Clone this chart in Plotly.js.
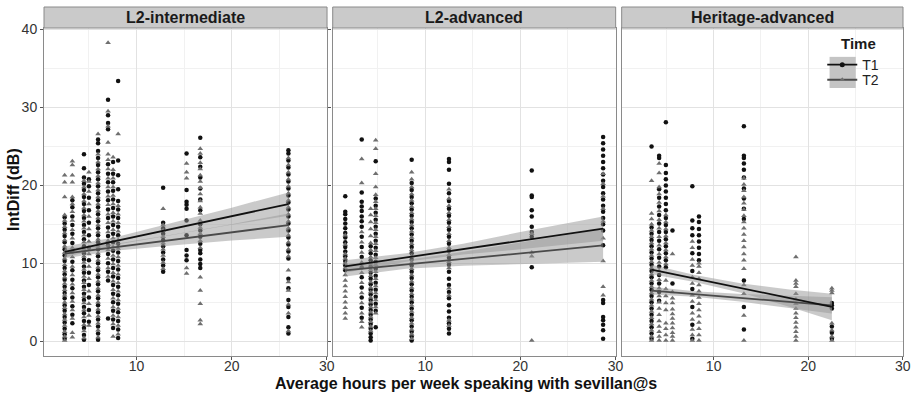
<!DOCTYPE html>
<html><head><meta charset="utf-8">
<script src="https://cdn.plot.ly/plotly-3.0.1.min.js"></script>
<style>html,body{margin:0;padding:0;background:#fff}</style>
</head><body><div id="chart" style="width:917px;height:393px"></div>
<script>
const panelNames = ['L2-intermediate', 'L2-advanced', 'Heritage-advanced'];
const xTickVals = [10, 20, 30];
const yTickVals = [0, 10, 20, 30, 40];

// ---------- L2-intermediate ----------
const hoursInt = [2.45, 3.26, 4.48, 5.0, 5.96, 7.01, 7.54, 8.07, 12.8, 15.26, 16.7, 25.96];
const intT1 = [
  [0.3,0.9,1.6,2.4,3.1,3.9,4.6,5.5,6.2,7.0,7.9,8.6,9.4,10.3,11.0,11.8,12.7,13.5,14.3,15.1,15.9],
  [2.3,3.4,4.5,5.6,6.8,7.9,9.1,10.2,11.5,12.6,13.8,14.9,16.0,17.2,18.1],
  [0.2,0.8,1.7,2.6,3.6,4.4,5.3,6.1,7.0,7.8,8.8,9.6,10.5,11.3,12.2,13.1,14.0,14.9,15.8,16.7,17.6,18.5,19.4,20.2,21.0,22.2,24.0],
  [2.5,4.0,5.6,7.2,8.8,10.4,12.0,13.6,15.2,16.8,18.4,19.9,20.8],
  [0.2,1.0,1.9,2.8,3.7,4.6,5.5,6.4,7.3,8.2,9.1,10.0,10.9,11.8,12.7,13.6,14.5,15.4,16.3,17.2,18.1,19.0,19.9,20.8,21.7,22.6,23.5,24.4,25.4,25.9],
  [2.9,7.8,8.9,10.0,11.2,12.3,13.5,14.6,15.8,16.9,18.1,19.2,20.4,21.5,22.7,27.2,28.0,29.0,31.0],
  [1.7,2.8,3.9,5.0,6.1,7.2,8.3,9.4,10.5,11.6,12.7,13.8,14.9,16.0,17.1,18.2,19.3,20.4,21.5,23.0],
  [0.4,1.5,2.6,3.7,4.8,5.9,7.0,8.1,9.2,10.3,11.4,12.5,13.6,14.7,15.8,16.9,18.0,19.5,21.3,23.2,33.4],
  [8.9,9.7,10.5,11.4,12.2,13.0,13.8,14.5,15.2,19.7],
  [10.4,11.0,11.7,13.6,15.5,17.0,17.5,17.9,19.4,24.1],
  [9.4,9.9,10.5,11.3,11.7,12.5,13.4,14.2,15.0,16.8,18.2,19.6,21.0,22.4,23.6,26.1],
  [1.0,1.8,3.1,4.4,5.3,6.8,8.0,10.6,11.5,12.4,13.3,14.2,15.1,16.0,16.9,17.8,18.7,19.6,20.5,21.4,22.3,23.2,24.1,24.5]
];
const intT2 = [
  [0.1,0.6,1.2,2.0,2.8,3.5,4.3,5.0,5.9,6.6,7.4,8.2,9.0,9.8,10.6,11.4,12.2,13.0,13.9,14.7,15.5,16.2,18.5,20.4,21.3],
  [0.5,1.1,2.9,4.0,5.1,6.2,7.3,8.5,9.6,10.8,12.0,13.2,14.3,15.5,16.6,17.6,18.5,20.4,21.3,22.6,23.1],
  [0.4,1.3,2.1,3.1,4.0,4.9,5.7,6.6,7.5,8.3,9.2,10.1,10.9,11.8,12.7,13.6,14.5,15.4,16.2,17.1,18.0,18.9,19.8,20.6],
  [2.0,3.3,4.8,6.4,8.0,9.6,11.2,12.8,14.4,16.0,17.6,19.2,20.5,21.7],
  [0.5,1.4,2.3,3.2,4.1,5.0,5.9,6.8,7.7,8.6,9.5,10.4,11.3,12.2,13.1,14.0,14.9,15.8,16.7,17.6,18.5,19.4,20.3,21.2,22.1,23.0,24.0,26.6],
  [8.3,9.4,10.6,11.7,12.9,14.0,15.2,16.3,17.5,18.6,19.8,20.9,22.1,23.3,24.0,25.5,27.6,29.5,38.3],
  [0.6,2.2,3.3,4.4,5.5,6.6,7.7,8.8,9.9,11.0,12.1,13.2,14.3,15.4,16.5,17.6,18.7,19.8,20.9,22.0,23.6],
  [0.9,2.0,3.1,4.2,5.3,6.4,7.5,8.6,9.7,10.8,11.9,13.0,14.1,15.2,16.3,17.4,26.6],
  [9.3,10.1,11.0,11.8,12.6,13.4,14.2,14.9,17.0],
  [8.7,9.4,20.9,21.7,22.8],
  [2.2,2.7,4.8,6.5,8.2,12.0,12.9,13.8,14.6,15.5,16.4,17.2,18.0,18.9,19.7,20.5,21.3,22.1,22.9,24.1,24.7],
  [1.3,3.6,4.7,6.5,7.6,9.1,10.9,11.8,12.7,13.6,14.5,15.4,16.3,17.2,18.1,19.0,19.9,20.8,21.7,22.6,23.5]
];

// ---------- L2-advanced ----------
const hoursAdv = [1.6, 3.33, 4.27, 4.8, 8.58, 12.5, 21.2, 28.7];
const advT1 = [
  [9.1,9.7,10.3,10.9,11.5,12.1,12.7,13.3,13.9,14.5,15.1,15.7,16.3,16.6,18.6],
  [3.0,4.3,5.6,6.9,8.2,9.5,10.8,12.1,13.4,14.7,15.4,16.0,16.7,17.3,17.9,19.1,25.9],
  [0.1,0.5,1.0,1.6,2.2,2.8,3.4,4.0,4.7,5.3,6.0,6.6,7.3,8.0,8.8,9.6,10.4,11.3,12.2],
  [1.8,3.9,4.8,5.7,6.6,7.5,8.4,9.3,10.2,11.1,12.0,12.9,13.8,14.7,15.6,16.5,17.4,18.3,23.1],
  [0.1,0.6,1.2,1.9,2.7,3.4,4.2,5.0,5.7,6.5,7.3,8.1,8.9,9.7,10.5,11.3,12.1,12.9,13.7,14.5,15.3,16.1,16.9,17.7,18.5,19.4,20.3,23.3],
  [1.0,1.6,2.3,3.0,3.8,4.6,5.5,6.3,7.2,8.0,8.9,9.8,10.7,11.6,12.5,13.4,14.3,15.2,16.1,17.0,18.0,19.0,20.2,22.0,23.0,23.4],
  [9.5,13.4,14.0,14.7,16.0,16.8,18.5,18.7,21.9],
  [0.3,1.4,2.1,2.7,3.1,4.9,5.3,12.3,14.2,15.0,15.8,16.6,17.4,18.2,19.0,19.8,20.6,21.4,22.2,23.0,23.8,24.6,25.4,26.2]
];
const advT2 = [
  [2.9,3.6,4.3,5.0,5.7,6.4,7.1,7.8,8.5,9.4,10.0,10.6,11.2,12.4,13.6],
  [1.8,2.5,3.6,4.9,6.2,7.5,8.8,10.1,11.4,12.7,14.0,20.3,23.4],
  [1.3,1.9,2.5,3.1,3.7,4.4,5.0,5.6,6.3,6.9,7.6,8.4,9.2,10.0,10.8,11.7,12.6,13.5,14.4,15.3,16.2,17.0],
  [3.6,4.4,5.3,6.2,7.1,8.0,8.9,9.8,10.7,11.6,12.5,13.4,14.3,15.2,16.1,17.0,17.9,18.8,19.8,21.5,24.7,25.8],
  [0.3,0.9,1.5,2.3,3.0,3.8,4.6,5.4,6.1,6.9,7.7,8.5,9.3,10.1,10.9,11.7,12.5,13.3,14.1,14.9,15.7,16.5,17.3,18.1,18.9,19.8,20.8,21.7],
  [2.0,2.7,5.9,6.8,9.4,10.2,11.1,12.0,12.9,13.8,14.7,15.6,16.5,17.4,18.3,19.5],
  [0.1,10.9,11.4,13.8],
  [5.9,7.0,10.3,13.2,15.4,17.0,18.6,20.2,21.5]
];

// ---------- Heritage-advanced ----------
const hoursHer = [3.44, 4.24, 4.95, 5.65, 7.75, 8.45, 13.2, 18.7, 22.5];
const herT1 = [
  [0.3,1.0,1.8,2.6,3.4,4.2,5.0,5.8,6.6,7.4,8.2,9.0,9.8,10.6,11.4,12.2,13.0,13.8,14.6,25.0],
  [5.2,6.3,7.4,8.5,9.6,10.7,11.8,12.9,14.0,15.1,16.2,17.3,18.4,19.5,23.5,23.8],
  [9.5,10.4,11.3,12.2,13.1,14.0,14.9,15.8,16.8,17.6,18.4,19.2,20.0,20.8,21.6,22.6,28.1],
  [7.4,14.2],
  [0.3,2.1,4.4,6.7,9.0,11.3,13.6,14.5,15.5,19.9],
  [10.4,11.2,12.0,12.8,13.6,14.4,15.3,16.0],
  [1.5,4.4,7.8,15.7,17.0,18.3,19.6,21.0,22.0,22.8,23.5,23.8,27.6],
  [],
  [0.3,1.1,1.9,4.2,4.6,4.9]
];
const herT2 = [
  [0.1,0.6,1.4,2.2,3.0,3.8,4.6,5.4,6.2,7.0,7.8,8.6,9.4,10.2,11.0,11.8,12.6,13.4,14.2,15.0,15.7,16.4,20.6],
  [0.1,0.6,1.2,1.9,2.6,3.4,4.2,5.0,5.8,6.8,7.9,9.0,10.1,11.2,12.3,13.4,14.5,15.6,16.7,17.8,18.9,19.8,21.6,22.8],
  [0.1,0.8,1.6,2.3,4.0,4.9,5.8,6.7,7.8,9.9,10.8,11.7,12.6,13.5,14.4,15.3,16.2],
  [0.1,0.6,1.1,1.7,2.3,2.9,3.5,4.1,4.9,5.5,6.3,11.2],
  [0.1,0.8,1.5,2.8,3.6,5.1,5.9,7.4,8.2,9.7,10.5,12.0,12.8],
  [0.1,0.8,1.6,2.4,3.2,4.0,4.8,5.6,6.4,7.2,8.0,8.8,9.6,10.0],
  [0.1,3.3,6.1,7.2,9.3,10.4,11.2,12.1,12.9,13.7,14.5,15.3,16.1,16.9,17.7,18.5,19.3,20.1,20.9],
  [0.1,0.6,1.2,1.8,2.4,3.0,3.6,4.2,4.8,5.4,6.1,7.0,7.4,7.8,10.8],
  [0.1,0.6,1.4,2.3,6.2,6.5,6.8]
];

// ---------- fitted lines and 95% bands ----------
const fitXInt = [2.45, 8, 14, 20, 25.96];
const fitIntT1 = [11.45, 12.9, 14.47, 16.04, 17.6];
const loIntT1  = [10.75, 12.4, 13.67, 14.94, 16.1];
const hiIntT1  = [12.15, 13.4, 15.27, 17.14, 19.1];
const fitIntT2 = [11.25, 12.1, 13.03, 13.96, 14.9];
const loIntT2  = [10.65, 11.65, 12.33, 12.91, 13.4];
const hiIntT2  = [11.85, 12.55, 13.73, 15.01, 16.4];

const fitXAdv = [1.58, 8, 14, 20, 28.7];
const fitAdvT1 = [9.6, 10.75, 11.82, 12.9, 14.45];
const loAdvT1  = [8.8, 10.2, 11.12, 11.8, 12.9];
const hiAdvT1  = [10.4, 11.3, 12.52, 14.0, 16.0];
const fitAdvT2 = [9.1, 9.86, 10.57, 11.28, 12.3];
const loAdvT2  = [8.3, 9.31, 9.67, 9.88, 10.2];
const hiAdvT2  = [9.9, 10.41, 11.47, 12.68, 14.4];

const fitXHer = [3.44, 8, 13, 18, 22.5];
const fitHerT1 = [9.2, 8.05, 6.79, 5.53, 4.4];
const loHerT1  = [8.6, 7.6, 6.19, 4.43, 2.7];
const hiHerT1  = [9.8, 8.5, 7.39, 6.63, 6.1];
const fitHerT2 = [6.5, 6.05, 5.55, 5.05, 4.6];
const loHerT2  = [6.0, 5.7, 5.05, 4.25, 3.55];
const hiHerT2  = [7.0, 6.4, 6.05, 5.85, 5.65];

const COL_T1 = '#111111';
const COL_T2 = '#6f6f6f';
const LINE_T2 = '#4a4a4a';
const RIB = 'rgba(150,150,150,0.5)';
const FONT = 'Liberation Sans, Arial, Helvetica, sans-serif';

function flatten(hours, cols) {
  const xs = [], ys = [];
  cols.forEach((vals, i) => vals.forEach(v => { xs.push(hours[i]); ys.push(v); }));
  return {xs, ys};
}

const traces = [];
const panelData = [
  {hours: hoursInt, t1: intT1, t2: intT2, fx: fitXInt, f1: fitIntT1, l1: loIntT1, h1: hiIntT1, f2: fitIntT2, l2: loIntT2, h2: hiIntT2, ax: 'x'},
  {hours: hoursAdv, t1: advT1, t2: advT2, fx: fitXAdv, f1: fitAdvT1, l1: loAdvT1, h1: hiAdvT1, f2: fitAdvT2, l2: loAdvT2, h2: hiAdvT2, ax: 'x2'},
  {hours: hoursHer, t1: herT1, t2: herT2, fx: fitXHer, f1: fitHerT1, l1: loHerT1, h1: hiHerT1, f2: fitHerT2, l2: loHerT2, h2: hiHerT2, ax: 'x3'}
];

panelData.forEach(p => {
  const a = flatten(p.hours, p.t1), b = flatten(p.hours, p.t2);
  traces.push({type: 'scatter', mode: 'markers', x: a.xs, y: a.ys, xaxis: p.ax, yaxis: 'y', showlegend: false, hoverinfo: 'skip',
    marker: {symbol: 'circle', size: 4.5, color: COL_T1}});
  traces.push({type: 'scatter', mode: 'markers', x: b.xs, y: b.ys, xaxis: p.ax, yaxis: 'y', showlegend: false, hoverinfo: 'skip',
    marker: {symbol: 'triangle-up', size: 5, color: COL_T2}});
});
panelData.forEach(p => {
  [[p.l1, p.h1], [p.l2, p.h2]].forEach(([lo, hi]) => {
    traces.push({type: 'scatter', mode: 'lines', x: p.fx.concat(p.fx.slice().reverse()), y: hi.concat(lo.slice().reverse()),
      fill: 'toself', fillcolor: RIB, line: {width: 0}, xaxis: p.ax, yaxis: 'y', showlegend: false, hoverinfo: 'skip'});
  });
});
panelData.forEach(p => {
  traces.push({type: 'scatter', mode: 'lines', x: p.fx, y: p.f2, line: {color: LINE_T2, width: 1.8}, xaxis: p.ax, yaxis: 'y', showlegend: false, hoverinfo: 'skip'});
  traces.push({type: 'scatter', mode: 'lines', x: p.fx, y: p.f1, line: {color: COL_T1, width: 1.8}, xaxis: p.ax, yaxis: 'y', showlegend: false, hoverinfo: 'skip'});
});
// legend entries (one legend box per level so that the spacing can follow the reference)
traces.push({type: 'scatter', mode: 'lines+markers', x: [null], y: [null], name: 'T1', xaxis: 'x3', yaxis: 'y', legend: 'legend',
  line: {color: COL_T1, width: 1.8}, marker: {symbol: 'circle', size: 5, color: COL_T1}});
traces.push({type: 'scatter', mode: 'lines+markers', x: [null], y: [null], name: 'T2', xaxis: 'x3', yaxis: 'y', legend: 'legend2',
  line: {color: LINE_T2, width: 1.8}, marker: {symbol: 'triangle-up', size: 5, color: COL_T2}});

const domains = [[0, 0.3295], [0.3361, 0.6655], [0.6725, 1]];
function xAxis(i) {
  return {
    domain: domains[i], anchor: 'y', range: [0.28, 30.02],
    tickmode: 'array', tickvals: xTickVals, ticktext: xTickVals.map(String),
    showgrid: true, gridcolor: '#e2e2e2', gridwidth: 1,
    minor: {tickmode: 'array', tickvals: [5, 15, 25], showgrid: true, gridcolor: '#f1f1f1', gridwidth: 1, ticks: ''},
    showline: true, linecolor: '#8a8a8a', linewidth: 1, mirror: true,
    ticks: 'outside', ticklen: 3, tickcolor: '#555', zeroline: false, ticklabelstandoff: -6,
    tickfont: {family: FONT, size: 14, color: '#333'}, fixedrange: true
  };
}

const shapes = [], annotations = [];
panelNames.forEach((name, i) => {
  const ref = i === 0 ? 'x domain' : 'x' + (i + 1) + ' domain';
  shapes.push({type: 'rect', xref: ref, yref: 'paper', x0: 0, x1: 1, y0: 1.0, y1: 1.064,
    fillcolor: '#cacaca', line: {color: '#8a8a8a', width: 1}, layer: 'above'});
  annotations.push({xref: ref, yref: 'paper', x: 0.5, y: 1.032, xanchor: 'center', yanchor: 'middle', showarrow: false,
    text: '<b>' + name + '</b>', font: {family: FONT, size: 16, color: '#1a1a1a'}});
});
// legend key background (ribbon fill in the key)
shapes.push({type: 'rect', xref: 'paper', yref: 'paper', x0: 0.9145, x1: 0.945, y0: 0.817, y1: 0.912,
  fillcolor: '#c4c4c4', line: {width: 0}, layer: 'above'});
annotations.push({xref: 'paper', yref: 'paper', x: 0.9255, y: 0.954, xanchor: 'left', yanchor: 'middle', showarrow: false,
  text: '<b>Time</b>', font: {family: FONT, size: 15, color: '#1a1a1a'}});
annotations.push({xref: 'paper', yref: 'paper', x: 0.491, y: -0.084, xanchor: 'center', yanchor: 'middle', showarrow: false,
  text: '<b>Average hours per week speaking with sevillan@s</b>', font: {family: FONT, size: 16, color: '#111'}});
annotations.push({xref: 'paper', yref: 'paper', x: -0.0355, y: 0.508, xanchor: 'center', yanchor: 'middle', showarrow: false,
  textangle: -90, text: '<b>IntDiff (dB)</b>', font: {family: FONT, size: 16, color: '#111'}});

const legendBase = {
  x: 0.906, xanchor: 'left', yanchor: 'middle', bgcolor: 'rgba(0,0,0,0)',
  font: {family: FONT, size: 14, color: '#222'}, itemwidth: 30, tracegroupgap: 0
};

const layout = {
  width: 917, height: 393,
  margin: {l: 44, r: 14, t: 28, b: 37, pad: 0},
  paper_bgcolor: '#fff', plot_bgcolor: '#fff',
  font: {family: FONT, color: '#222'},
  xaxis: xAxis(0), xaxis2: xAxis(1), xaxis3: xAxis(2),
  yaxis: {
    domain: [0, 1], anchor: 'x', range: [-1.9, 40.2],
    tickmode: 'array', tickvals: yTickVals, ticktext: yTickVals.map(String),
    showgrid: true, gridcolor: '#e2e2e2', gridwidth: 1,
    minor: {tickmode: 'array', tickvals: [5, 15, 25, 35], showgrid: true, gridcolor: '#f1f1f1', gridwidth: 1, ticks: ''},
    showline: true, linecolor: '#8a8a8a', linewidth: 1, mirror: 'all',
    ticks: 'outside', ticklen: 3, tickcolor: '#555', zeroline: false,
    tickfont: {family: FONT, size: 14, color: '#333'}, fixedrange: true
  },
  showlegend: true,
  legend: Object.assign({}, legendBase, {y: 0.887}),
  legend2: Object.assign({}, legendBase, {y: 0.841}),
  shapes: shapes, annotations: annotations
};

Plotly.newPlot('chart', traces, layout, {staticPlot: true, displayModeBar: false});
</script>
</body></html>
